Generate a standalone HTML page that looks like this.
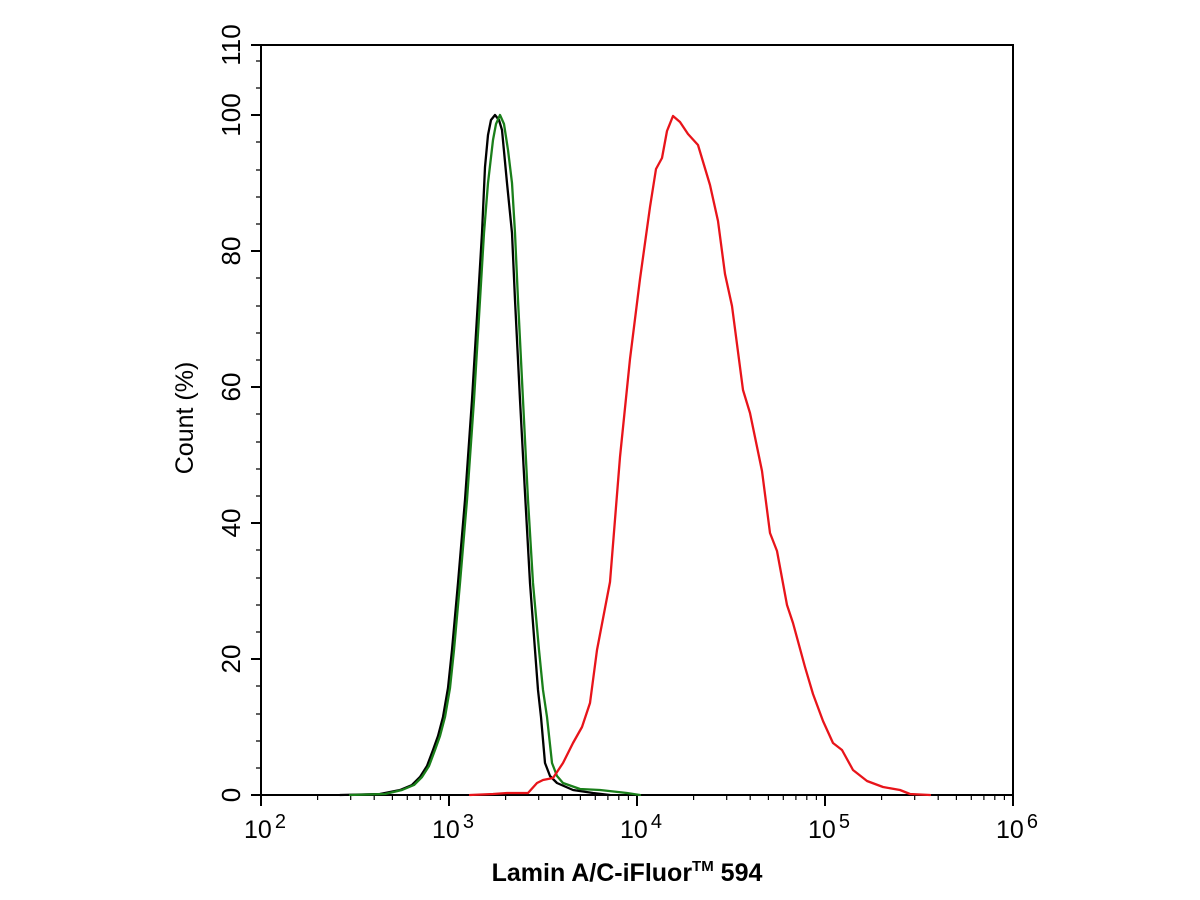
<!DOCTYPE html>
<html><head><meta charset="utf-8"><style>body{margin:0;background:#fff}svg{display:block}</style></head><body>
<svg width="1200" height="900" viewBox="0 0 1200 900" xmlns="http://www.w3.org/2000/svg" font-family="Liberation Sans, Arial, sans-serif">
<rect width="1200" height="900" fill="#fff"/>
<g stroke="#000" stroke-width="2" fill="none">
<rect x="261" y="45" width="752" height="750"/>
<path d="M251 795H261M251 659H261M251 523H261M251 387H261M251 251H261M251 115H261M251 45H261"/>
</g>
<g stroke="#000" stroke-width="1.2">
<path d="M256 768H261M256 741H261M256 714H261M256 686H261M256 632H261M256 605H261M256 578H261M256 550H261M256 496H261M256 469H261M256 442H261M256 414H261M256 360H261M256 333H261M256 306H261M256 278H261M256 224H261M256 197H261M256 170H261M256 142H261M256 88H261M256 61H261"/>
</g>
<g stroke="#000" stroke-width="2"><path d="M261 795V806M449 795V806M637 795V806M825 795V806M1013 795V806"/></g>
<g stroke="#000" stroke-width="1.2">
<path d="M317.6 795v5M350.7 795v5M374.2 795v5M392.4 795v5M407.3 795v5M419.9 795v5M430.8 795v5M440.4 795v5"/>
<path transform="translate(188,0)" d="M317.6 795v5M350.7 795v5M374.2 795v5M392.4 795v5M407.3 795v5M419.9 795v5M430.8 795v5M440.4 795v5"/>
<path transform="translate(376,0)" d="M317.6 795v5M350.7 795v5M374.2 795v5M392.4 795v5M407.3 795v5M419.9 795v5M430.8 795v5M440.4 795v5"/>
<path transform="translate(564,0)" d="M317.6 795v5M350.7 795v5M374.2 795v5M392.4 795v5M407.3 795v5M419.9 795v5M430.8 795v5M440.4 795v5"/>
</g>
<g font-size="26" fill="#000" text-anchor="middle">
<text transform="translate(240,795) rotate(-90)">0</text>
<text transform="translate(240,659) rotate(-90)">20</text>
<text transform="translate(240,523) rotate(-90)">40</text>
<text transform="translate(240,387) rotate(-90)">60</text>
<text transform="translate(240,251) rotate(-90)">80</text>
<text transform="translate(240,115) rotate(-90)">100</text>
<text transform="translate(240,45) rotate(-90)">110</text>
<text transform="translate(193,418) rotate(-90)" font-size="25">Count  (%)</text>
</g>
<g font-size="25" fill="#000">
<text x="244" y="838">10<tspan dx="3" dy="-10" font-size="20">2</tspan></text>
<text x="432" y="838">10<tspan dx="3" dy="-10" font-size="20">3</tspan></text>
<text x="620" y="838">10<tspan dx="3" dy="-10" font-size="20">4</tspan></text>
<text x="808" y="838">10<tspan dx="3" dy="-10" font-size="20">5</tspan></text>
<text x="996" y="838">10<tspan dx="3" dy="-10" font-size="20">6</tspan></text>
</g>
<text x="627" y="881" font-size="25" font-weight="bold" text-anchor="middle">Lamin A/C-iFluor<tspan font-size="15" dy="-10">TM</tspan><tspan dy="10"> 594</tspan></text>
<g fill="none" stroke-width="2.3" stroke-linejoin="round" stroke-linecap="round">
<path stroke="#000" d="M340 795L380 794L400 790L412 785L420 777L427 766L433 750L438 736L443 717L448 688L452 650L458 583L465 500L472 400L478 300L482 233L485 167L488 135L491 120L495 115L499 120L502 130L507 183L512 233L515 300L520 400L525 493L530 583L535 650L538 690L541 717L545 763L550 776L557 783L573 790L593 793L610 795"/>
<path stroke="#1a7f1a" d="M350 795L385 794L402 790L414 785L422 777L429 766L435 750L440 736L445 717L450 688L454 650L460 583L467 500L474 400L480 300L484 233L488 183L493 140L496 124L500 115L504 124L508 150L512 183L515 233L518 300L523 400L528 500L533 583L539 650L543 690L547 717L552 763L557 776L563 783L580 789L600 790L627 793L640 795"/>
<path stroke="#e8141a" d="M470 795L493 794L507 793L528 793L537 783L543 780L553 778L563 763L573 743L582 727L590 703L597 650L610 582L620 457L630 359L640 279L650 207L656 169L662 158L667 131L673 116L680 122L688 134L698 145L710 185L718 221L725 274L732 306L743 390L750 413L762 471L770 533L777 551L787 605L793 623L805 667L813 694L823 721L833 743L842 750L853 770L867 781L883 787L900 790L910 794L930 795"/>
</g>
</svg>
</body></html>
